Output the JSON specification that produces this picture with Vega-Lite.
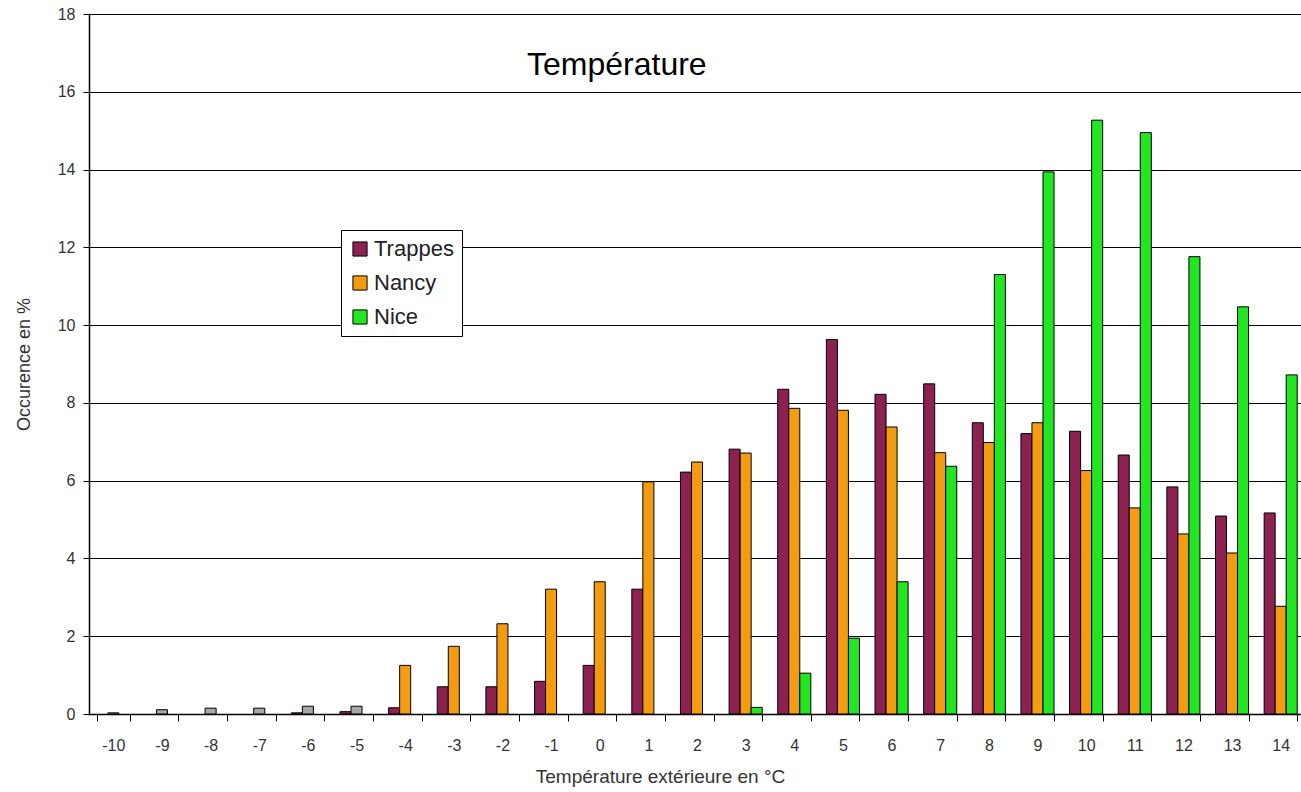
{
  "$schema": "https://vega.github.io/schema/vega-lite/v6.json",
  "autosize": {"type": "none"},
  "padding": {"left": 89, "top": 14, "right": 0, "bottom": 78},
  "width": 1216,
  "height": 700,
  "background": "white",
  "title": {
    "text": "Température",
    "font": "Liberation Sans",
    "fontSize": 32,
    "fontWeight": "normal",
    "color": "black",
    "anchor": "start",
    "frame": "group",
    "orient": "top",
    "baseline": "top",
    "dx": 438,
    "dy": 80
  },
  "data": {
    "values": [
      {"t": -10, "serie": "Trappes", "v": 0},
      {"t": -10, "serie": "Nancy", "v": 0.03},
      {"t": -10, "serie": "Nice", "v": 0},
      {"t": -9, "serie": "Trappes", "v": 0},
      {"t": -9, "serie": "Nancy", "v": 0.11},
      {"t": -9, "serie": "Nice", "v": 0},
      {"t": -8, "serie": "Trappes", "v": 0},
      {"t": -8, "serie": "Nancy", "v": 0.15},
      {"t": -8, "serie": "Nice", "v": 0},
      {"t": -7, "serie": "Trappes", "v": 0},
      {"t": -7, "serie": "Nancy", "v": 0.15},
      {"t": -7, "serie": "Nice", "v": 0},
      {"t": -6, "serie": "Trappes", "v": 0.03},
      {"t": -6, "serie": "Nancy", "v": 0.2},
      {"t": -6, "serie": "Nice", "v": 0},
      {"t": -5, "serie": "Trappes", "v": 0.06},
      {"t": -5, "serie": "Nancy", "v": 0.2},
      {"t": -5, "serie": "Nice", "v": 0},
      {"t": -4, "serie": "Trappes", "v": 0.16},
      {"t": -4, "serie": "Nancy", "v": 1.25},
      {"t": -4, "serie": "Nice", "v": 0},
      {"t": -3, "serie": "Trappes", "v": 0.7},
      {"t": -3, "serie": "Nancy", "v": 1.74},
      {"t": -3, "serie": "Nice", "v": 0},
      {"t": -2, "serie": "Trappes", "v": 0.7},
      {"t": -2, "serie": "Nancy", "v": 2.32},
      {"t": -2, "serie": "Nice", "v": 0},
      {"t": -1, "serie": "Trappes", "v": 0.84},
      {"t": -1, "serie": "Nancy", "v": 3.21},
      {"t": -1, "serie": "Nice", "v": 0},
      {"t": 0, "serie": "Trappes", "v": 1.25},
      {"t": 0, "serie": "Nancy", "v": 3.4},
      {"t": 0, "serie": "Nice", "v": 0},
      {"t": 1, "serie": "Trappes", "v": 3.21},
      {"t": 1, "serie": "Nancy", "v": 5.97},
      {"t": 1, "serie": "Nice", "v": 0},
      {"t": 2, "serie": "Trappes", "v": 6.22},
      {"t": 2, "serie": "Nancy", "v": 6.48},
      {"t": 2, "serie": "Nice", "v": 0},
      {"t": 3, "serie": "Trappes", "v": 6.81},
      {"t": 3, "serie": "Nancy", "v": 6.71},
      {"t": 3, "serie": "Nice", "v": 0.17},
      {"t": 4, "serie": "Trappes", "v": 8.35},
      {"t": 4, "serie": "Nancy", "v": 7.86},
      {"t": 4, "serie": "Nice", "v": 1.05},
      {"t": 5, "serie": "Trappes", "v": 9.63},
      {"t": 5, "serie": "Nancy", "v": 7.81},
      {"t": 5, "serie": "Nice", "v": 1.95},
      {"t": 6, "serie": "Trappes", "v": 8.22},
      {"t": 6, "serie": "Nancy", "v": 7.38},
      {"t": 6, "serie": "Nice", "v": 3.4},
      {"t": 7, "serie": "Trappes", "v": 8.49},
      {"t": 7, "serie": "Nancy", "v": 6.72},
      {"t": 7, "serie": "Nice", "v": 6.37},
      {"t": 8, "serie": "Trappes", "v": 7.49},
      {"t": 8, "serie": "Nancy", "v": 6.98},
      {"t": 8, "serie": "Nice", "v": 11.3},
      {"t": 9, "serie": "Trappes", "v": 7.21},
      {"t": 9, "serie": "Nancy", "v": 7.49},
      {"t": 9, "serie": "Nice", "v": 13.94},
      {"t": 10, "serie": "Trappes", "v": 7.27},
      {"t": 10, "serie": "Nancy", "v": 6.26},
      {"t": 10, "serie": "Nice", "v": 15.27},
      {"t": 11, "serie": "Trappes", "v": 6.66},
      {"t": 11, "serie": "Nancy", "v": 5.3},
      {"t": 11, "serie": "Nice", "v": 14.95},
      {"t": 12, "serie": "Trappes", "v": 5.84},
      {"t": 12, "serie": "Nancy", "v": 4.63},
      {"t": 12, "serie": "Nice", "v": 11.76},
      {"t": 13, "serie": "Trappes", "v": 5.09},
      {"t": 13, "serie": "Nancy", "v": 4.14},
      {"t": 13, "serie": "Nice", "v": 10.47},
      {"t": 14, "serie": "Trappes", "v": 5.17},
      {"t": 14, "serie": "Nancy", "v": 2.77},
      {"t": 14, "serie": "Nice", "v": 8.72}
    ]
  },
  "transform": [{"filter": "datum.v > 0"}],
  "mark": {"type": "bar", "stroke": "black", "strokeWidth": 1, "clip": true},
  "encoding": {
    "x": {
      "field": "t",
      "type": "ordinal",
      "sort": "ascending",
      "scale": {"domain": [-10,-9,-8,-7,-6,-5,-4,-3,-2,-1,0,1,2,3,4,5,6,7,8,9,10,11,12,13,14], "paddingInner": 0.32, "paddingOuter": 0.16},
      "axis": {
        "title": "Température extérieure en °C",
        "titleFont": "Liberation Sans",
        "titleFontSize": 19,
        "titleFontWeight": "normal",
        "titleColor": "#333333",
        "titleX": 571,
        "titlePadding": 14,
        "labelFont": "Liberation Sans",
        "labelFontSize": 16,
        "labelColor": "#333333",
        "labelAngle": 0,
        "labelPadding": 16,
        "tickBand": "extent",
        "tickColor": "black",
        "tickSize": 7,
        "domainColor": "black",
        "domainWidth": 1.5,
        "grid": false
      }
    },
    "xOffset": {"field": "serie", "type": "nominal", "sort": ["Trappes", "Nancy", "Nice"], "scale": {"domain": ["Trappes", "Nancy", "Nice"], "paddingInner": 0, "paddingOuter": 0}},
    "y": {
      "field": "v",
      "type": "quantitative",
      "scale": {"domain": [0, 18], "nice": false},
      "axis": {
        "title": "Occurence en %",
        "titleFont": "Liberation Sans",
        "titleFontSize": 18,
        "titleFontWeight": "normal",
        "titleColor": "#333333",
        "titlePadding": 24,
        "values": [0, 2, 4, 6, 8, 10, 12, 14, 16, 18],
        "labelFont": "Liberation Sans",
        "labelFontSize": 16,
        "labelColor": "#333333",
        "labelPadding": 8,
        "tickColor": "black",
        "tickSize": 6,
        "domainColor": "black",
        "domainWidth": 1.5,
        "grid": true,
        "gridColor": "black",
        "gridWidth": 1.2,
        "gridOpacity": 1
      }
    },
    "color": {
      "condition": {"test": "datum.serie === 'Nancy' && datum.t < -4", "value": "#a6a6a6"},
      "field": "serie",
      "type": "nominal",
      "sort": ["Trappes", "Nancy", "Nice"],
      "scale": {"domain": ["Trappes", "Nancy", "Nice"], "range": ["#8b2252", "#f39c12", "#22e622"]},
      "legend": {
        "title": null,
        "orient": "none",
        "legendX": 252,
        "legendY": 216,
        "symbolType": "square",
        "symbolSize": 200,
        "symbolStrokeColor": "black",
        "symbolStrokeWidth": 1,
        "symbolOpacity": 1,
        "labelFont": "Liberation Sans",
        "labelFontSize": 22,
        "labelColor": "#222222",
        "labelOffset": 3,
        "labelLimit": 300,
        "rowPadding": 12,
        "padding": 8,
        "strokeColor": "black",
        "fillColor": "white",
        "cornerRadius": 0
      }
    }
  },
  "config": {
    "view": {"stroke": null},
    "axis": {"domainCap": "square"}
  }
}
